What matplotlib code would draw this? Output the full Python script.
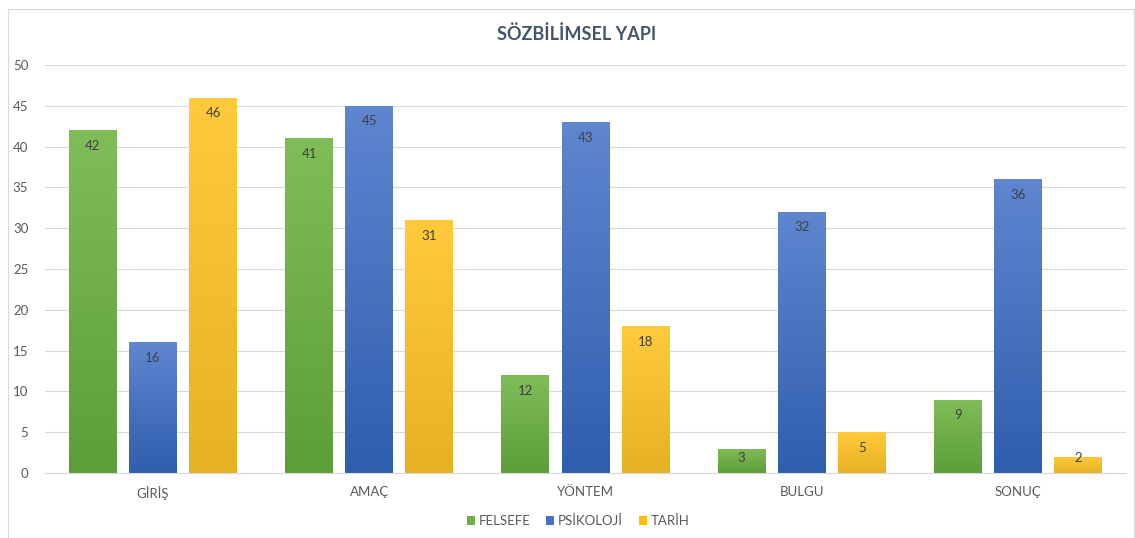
import numpy as np
import matplotlib
matplotlib.use("Agg")
import matplotlib.pyplot as plt
from matplotlib.patches import Rectangle
from matplotlib.colors import LinearSegmentedColormap

categories = ["GİRİŞ", "AMAÇ", "YÖNTEM", "BULGU", "SONUÇ"]
series_names = ["FELSEFE", "PSİKOLOJİ", "TARİH"]
felsefe = [42, 41, 12, 3, 9]
psikoloji = [16, 45, 43, 32, 36]
tarih = [46, 31, 18, 5, 2]
yticks = [0, 5, 10, 15, 20, 25, 30, 35, 40, 45, 50]

values = [felsefe, psikoloji, tarih]
base_colors = ["#70AD47", "#4472C4", "#FFC000"]
grad = [("#80bd58", "#5c9e38"), ("#5f86cf", "#2f5eae"), ("#ffca3c", "#e6b122")]

plt.rcParams['font.family'] = ['Lato', 'DejaVu Sans']
fig = plt.figure(figsize=(11.35, 5.38), dpi=100)
ax = fig.add_axes([45/1135, 65/538, 1081/1135, 408/538])

x = np.arange(len(categories))
width = 0.222
offset = 0.278
for i, (vals, col, (ctop, cbot)) in enumerate(zip(values, base_colors, grad)):
    bars = ax.bar(x + (i - 1) * offset, vals, width, color=col, label=series_names[i], zorder=2)
    cmap = LinearSegmentedColormap.from_list("g%d" % i, [cbot, ctop])
    for b, v in zip(bars, vals):
        x0, w, h = b.get_x(), b.get_width(), b.get_height()
        img = ax.imshow(np.linspace(0, 1, 256).reshape(-1, 1), cmap=cmap, origin="lower",
                        extent=[x0, x0 + w, 0, h], aspect="auto", zorder=2.5)
        img.set_clip_path(b)
        ax.text(x0 + w / 2, max(h - 1.9, 1.85), str(v), ha="center", va="center", fontsize=9.5,
                color="#404040", zorder=3)

ax.set_xlim(-0.5, len(categories) - 0.5)
ax.set_ylim(0, 50)
ax.set_yticks(yticks)
ax.set_xticks(x)
ax.set_xticklabels(categories)
ax.tick_params(axis="both", length=0, labelsize=9.5, colors="#595959")
ax.tick_params(axis="y", pad=12)
ax.tick_params(axis="x", pad=9)
ax.grid(axis="y", color="#D9D9D9", linewidth=0.8, zorder=0)
ax.set_axisbelow(True)
for s in ["top", "right", "left"]:
    ax.spines[s].set_visible(False)
ax.spines["bottom"].set_color("#D9D9D9")
ax.spines["bottom"].set_linewidth(0.8)

fig.text(577/1135, 1 - 34/538, "SÖZBİLİMSEL YAPI", ha="center", va="center",
         fontsize=13, fontweight="bold", color="#44546A")

leg = fig.legend(loc="center", bbox_to_anchor=(578/1135, 1 - 521/538), ncol=3, frameon=False,
                 fontsize=9.5, handlelength=0.6, handleheight=0.6, handletextpad=0.3,
                 columnspacing=1.2, labelcolor="#595959")

fig.patches.append(Rectangle((8/1135, 0.5/538), 1 - 9/1135, 1 - 9/538, transform=fig.transFigure,
                             fill=False, edgecolor="#D9D9D9", linewidth=0.8))

fig.savefig("out.png", dpi=100)
